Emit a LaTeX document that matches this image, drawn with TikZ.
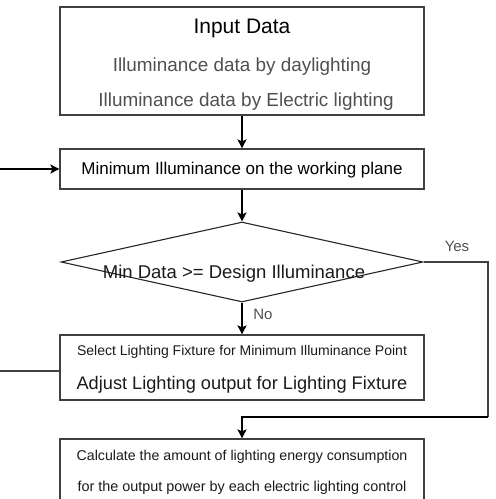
\documentclass[tikz,border=0pt]{standalone}
\usepackage{fontspec}
\setmainfont{Liberation Sans}
\usetikzlibrary{shapes.geometric,arrows.meta}
\definecolor{boxline}{HTML}{404040}
\definecolor{graytxt}{HTML}{505050}
\definecolor{darktxt}{HTML}{1A1A1A}
\begin{document}
\begin{tikzpicture}[x=1pt,y=-1pt,
  box/.style={draw=boxline, line width=1.2pt, rectangle, minimum width=364pt, inner sep=0pt},
  decision/.style={draw=black!85, line width=1.1pt, diamond, inner sep=0pt, minimum width=362pt, minimum height=80pt},
  arr/.style={line width=1.8pt, -{Stealth[length=9pt,width=9pt,inset=2pt]}},
  conn/.style={draw=boxline, line width=1.3pt},
  lbl/.style={inner sep=0pt, text=darktxt},
  fs/.style={font=\fontsize{#1pt}{#1pt}\selectfont}
]
\useasboundingbox (0,0) rectangle (496,499);

% boxes
\node[box, minimum height=108pt] (b1) at (242,61) {};
\node[box, minimum height=40pt] (b2) at (242,169) {};
\node[decision] (d) at (242,262) {};
\node[box, minimum height=65pt] (b3) at (242,367.5) {};
\node[box, minimum height=84pt] (b4) at (242,481) {};

% texts
\node[lbl, fs=21, text=black] (t1) at (242,28.5) {Input Data};
\node[lbl, fs=18.9, text=graytxt] (t2) at (242,67) {Illuminance data by daylighting};
\node[lbl, fs=18.9, text=graytxt] (t3) at (246,102) {Illuminance data by Electric lighting};
\node[lbl, fs=17, text=black] (t4) at (242,170) {Minimum Illuminance on the working plane};
\node[lbl, fs=18.5] (t5) at (234,274) {Min Data >= Design Illuminance};
\node[lbl, fs=14] (t6) at (242,352) {Select Lighting Fixture for Minimum Illuminance Point};
\node[lbl, fs=18.2] (t7) at (242,385) {Adjust Lighting output for Lighting Fixture};
\node[lbl, fs=14.2] (t8) at (242,456.5) {Calculate the amount of lighting energy consumption};
\node[lbl, fs=14.4] (t9) at (242,487.5) {for the output power by each electric lighting control};
\node[lbl, fs=15, text=graytxt] (yes) at (457,246) {Yes};
\node[lbl, fs=15, text=graytxt] (no) at (263,314) {No};

% helper coordinates
\coordinate (inL) at (0,169);
\coordinate (outL) at (0,371);
\coordinate (yc) at (488,417);

% connectors
\draw[arr] (b1.south) -- (b2.north);
\draw[arr] (inL) -- (b2.west |- inL);
\draw[arr] (b2.south) -- (d.north);
\draw[arr] (d.south) -- (b3.north);
\draw[conn] (d.east) -| (yc);
\draw[arr] (yc) -| (b4.north);
\draw[conn] (b3.west |- outL) -- (outL);
\end{tikzpicture}
\end{document}
